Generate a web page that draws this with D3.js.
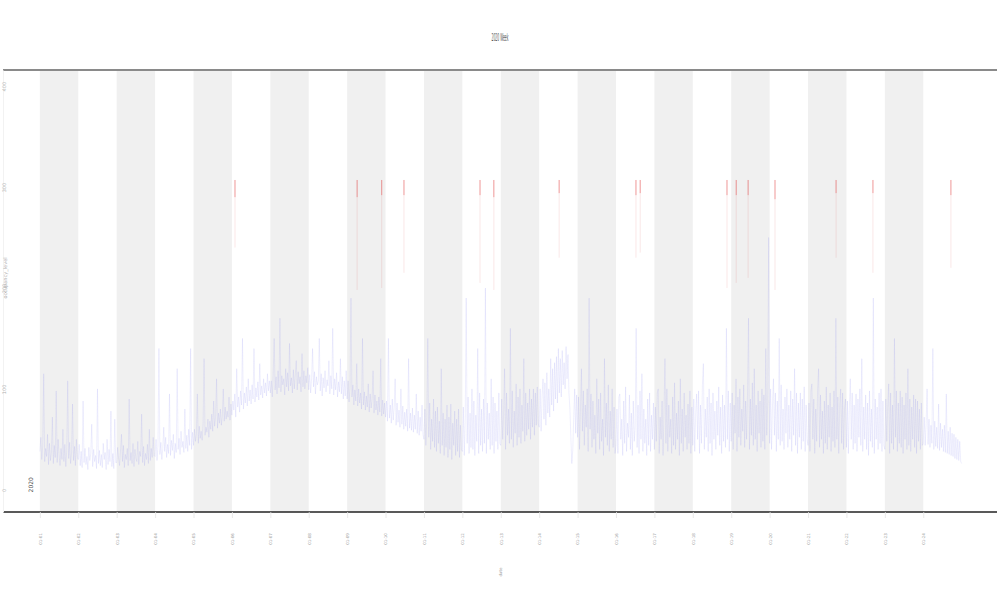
<!DOCTYPE html>
<html><head><meta charset="utf-8">
<script src="https://cdn.jsdelivr.net/npm/d3@7"></script>
<style>body{margin:0;background:#fff}</style>
</head><body><svg id="c" width="1000" height="600"></svg>
<script>
const titleText = "2020 Week";
const xTitleText = "date";
const yTitleText = "occupancy_level";
const annotationText = "2020";
const xTickValues = d3.range(0, 24);
const xTickLabels = ["01-01","01-02","01-03","01-04","01-05","01-06","01-07","01-08","01-09","01-10","01-11","01-12","01-13","01-14","01-15","01-16","01-17","01-18","01-19","01-20","01-21","01-22","01-23","01-24"];
const yTickValues = [0, 100, 200, 300, 400];
const yTickLabels = ["0", "100", "200", "300", "400"];
const seriesStart = 0, seriesStep = 0.025;
const seriesValues = [
38,52,30,44,115,28,41,33,55,25,46,29,37,72,26,44,32,98,27,50,35,24,41,30,60,28,45,23,39,108,31,47,26,36,85,29,43,24,50,33,
30,45,24,38,22,88,27,41,25,33,20,42,29,36,65,23,40,28,34,21,100,26,39,24,35,22,46,30,37,20,50,25,40,28,78,23,36,21,70,27,
27,42,31,24,39,55,28,44,22,35,30,41,24,90,29,37,26,46,23,40,31,28,48,25,38,33,75,27,43,24,36,30,45,26,60,29,41,32,52,34,
33,50,29,44,140,35,47,30,41,62,38,52,32,45,36,95,34,49,39,55,31,46,37,120,40,51,35,58,42,48,37,80,41,54,38,60,44,140,40,57,
44,60,48,55,95,46,63,51,58,49,66,130,54,62,57,70,52,68,60,75,58,88,63,72,110,61,76,66,80,64,73,100,68,82,70,78,72,92,69,85,
74,88,79,95,72,120,82,92,77,98,84,150,80,96,86,102,83,110,88,99,85,104,90,140,87,101,92,107,89,125,94,103,91,110,96,106,93,115,98,108,
96,108,92,115,150,99,112,95,118,101,170,97,113,104,110,94,120,102,116,98,145,103,111,96,119,100,114,128,99,117,105,112,97,135,102,118,100,113,106,121,
99,114,96,110,140,102,117,95,112,104,108,150,98,115,93,111,101,118,97,109,103,128,95,113,100,160,94,110,99,116,92,107,97,130,95,112,90,108,93,118,
90,108,87,102,190,92,104,84,99,88,125,83,100,86,96,80,150,84,97,79,93,82,105,77,95,81,90,118,76,94,79,88,74,92,77,130,73,89,75,86,
72,88,68,150,71,84,66,90,69,82,110,64,86,67,79,62,100,65,83,60,77,63,80,58,130,61,76,59,81,57,74,60,95,56,78,54,72,58,84,55,
50,80,44,72,150,52,86,40,70,48,90,42,78,38,82,46,68,36,120,44,76,34,70,42,84,32,72,40,85,30,66,44,78,34,70,38,80,32,64,40,
38,82,34,70,190,46,92,36,76,42,100,40,88,34,74,48,140,36,96,44,80,38,90,46,200,36,86,50,76,40,110,44,92,36,86,48,78,40,96,46,
44,90,50,76,120,40,96,54,80,46,160,50,98,42,78,56,105,44,92,52,100,46,84,58,130,48,96,54,86,60,100,50,90,62,100,54,96,64,102,66,
62,100,58,92,110,70,106,64,116,76,100,72,130,84,120,78,126,90,132,86,140,96,130,92,138,104,126,100,142,110,134,96,80,52,26,40,72,100,56,94,
52,92,40,80,120,58,98,44,84,62,100,38,190,60,95,42,88,50,74,36,110,56,90,40,96,48,70,34,130,52,86,44,104,38,78,50,100,42,82,36,
44,80,36,92,95,50,70,34,88,46,102,38,66,52,94,40,76,34,88,48,62,160,42,84,36,98,50,115,38,80,46,70,34,90,44,96,38,74,50,86,
40,82,48,96,100,36,72,50,88,34,78,130,46,100,38,84,52,70,36,92,44,106,40,76,50,88,34,110,46,80,38,96,52,74,40,85,46,98,36,82,
44,90,38,76,95,50,98,36,84,46,104,125,40,80,52,92,38,100,46,86,34,96,50,78,40,88,54,102,44,82,36,94,48,84,42,160,50,98,38,86,
48,96,40,84,56,110,38,92,52,100,44,80,58,104,42,88,50,96,170,40,90,54,106,44,120,50,84,38,98,56,88,42,100,48,94,40,140,54,86,250,
46,100,40,84,110,54,96,38,88,50,150,44,104,48,80,40,92,56,100,42,84,50,98,38,90,54,120,44,96,36,86,52,96,40,90,48,102,38,84,50,
44,86,38,98,105,50,90,36,80,48,100,120,42,94,50,78,36,88,46,102,40,84,52,96,38,82,48,98,42,170,50,92,36,84,100,46,96,40,80,90,
42,88,36,80,110,50,96,40,84,46,95,38,90,52,100,44,130,38,82,50,94,40,86,34,98,48,80,42,190,36,90,50,82,40,96,46,100,38,88,44,
40,90,48,82,105,36,96,46,84,40,150,52,98,38,86,46,98,42,92,36,84,50,96,40,120,44,90,38,82,50,94,42,90,36,88,48,80,40,86,44,
46,72,44,66,100,45,70,42,64,46,140,40,68,43,62,41,85,39,66,42,60,38,64,37,95,36,58,35,62,34,56,33,55,31,52,30,50,29,48,28,
26];
const alertX = [5.08, 8.26, 8.9, 9.48, 11.46, 11.82, 13.52, 15.52, 15.63, 17.89, 18.13, 18.44, 19.14, 20.73, 21.69, 23.72];
const alertHigh = [307, 307, 307, 307, 307, 307, 307, 307, 307, 307, 307, 307, 307, 307, 307, 307];
const alertMid = [290, 290, 292, 292, 292, 290, 294, 292, 294, 292, 292, 292, 288, 294, 294, 292];
const alertLow = [240, 198, 200, 215, 205, 198, 230, 230, 235, 200, 205, 210, 198, 230, 215, 220];

const svg = d3.select("#c");
const x = d3.scaleLinear().domain([-0.96, 24.92]).range([3, 997]);
const y = d3.scaleLinear().domain([-22, 416]).range([512, 70]);

// bands
svg.append("g").selectAll("rect").data(xTickValues.filter(d => d % 2 === 0)).join("rect")
  .attr("x", d => x(d)).attr("width", d => x(d + 1) - x(d))
  .attr("y", y(416)).attr("height", y(-22) - y(416)).attr("fill", "#f0f0f0");

// x axis
const xAxis = d3.axisBottom(x).tickValues(xTickValues).tickSize(6).tickFormat((d, i) => xTickLabels[i]);
const gx = svg.append("g").attr("transform", `translate(0,${y(-22)})`).call(xAxis);
gx.select(".domain").attr("stroke", "#222").attr("stroke-width", 1.6).attr("d", `M3,0H997`);
gx.selectAll(".tick line").attr("stroke", "#e4e4e4").attr("stroke-width", 0.8);
gx.selectAll(".tick text").attr("transform", "translate(0,27) rotate(-90)").attr("dy", "0.35em").attr("y", 0)
  .attr("text-anchor", "middle").attr("font-size", 4).attr("fill", "#999").attr("font-family", "DejaVu Sans");

// top border
svg.append("line").attr("x1", 3).attr("x2", 997).attr("y1", y(416)).attr("y2", y(416))
  .attr("stroke", "#8a8a8a").attr("stroke-width", 2);

// y axis labels
const yAxis = d3.axisLeft(y).tickValues(yTickValues).tickSize(0).tickFormat((d, i) => yTickLabels[i]);
const gy = svg.append("g").attr("transform", "translate(3,0)").call(yAxis);
gy.select(".domain").attr("stroke", "#f2f2f2").attr("stroke-width", 1);
gy.selectAll(".tick text").attr("x", 0).attr("dy", 0).attr("transform", "translate(3,0) rotate(-90)")
  .attr("text-anchor", "middle").attr("font-size", 5).attr("fill", "#b0b0b0").attr("font-family", "DejaVu Sans");

// series
const line = d3.line().x((d, i) => x(seriesStart + i * seriesStep)).y(d => y(d));
svg.append("path").datum(seriesValues).attr("d", line).attr("fill", "none")
  .attr("stroke", "#5a5ae6").attr("stroke-opacity", 0.2).attr("stroke-width", 0.5);

// alerts
const ag = svg.append("g");
alertX.forEach((a, i) => {
  ag.append("line").attr("x1", x(a)).attr("x2", x(a)).attr("y1", y(alertMid[i])).attr("y2", y(alertLow[i]))
    .attr("stroke", "#e06060").attr("stroke-opacity", 0.15).attr("stroke-width", 1);
  ag.append("line").attr("x1", x(a)).attr("x2", x(a)).attr("y1", y(alertHigh[i])).attr("y2", y(alertMid[i]))
    .attr("stroke", "#e03030").attr("stroke-opacity", 0.5).attr("stroke-width", 1);
});

// titles
svg.append("text").attr("x", 500).attr("y", 41).attr("text-anchor", "middle").attr("font-size", 11)
  .attr("textLength", 17).attr("lengthAdjust", "spacingAndGlyphs").attr("fill", "#555")
  .attr("font-family", "DejaVu Sans").text(titleText);
svg.append("text").attr("transform", "translate(502,572) rotate(-90)").attr("text-anchor", "middle")
  .attr("font-size", 4).attr("fill", "#999").attr("font-family", "DejaVu Sans").text(xTitleText);
svg.append("text").attr("transform", "translate(7,278) rotate(-90)").attr("text-anchor", "middle")
  .attr("font-size", 5).attr("fill", "#aaa").attr("font-family", "DejaVu Sans").text(yTitleText);
svg.append("text").attr("transform", `translate(33,${y(5)}) rotate(-90)`).attr("text-anchor", "middle")
  .attr("font-size", 6).attr("fill", "#555").attr("font-family", "DejaVu Sans").text(annotationText);
</script></body></html>
